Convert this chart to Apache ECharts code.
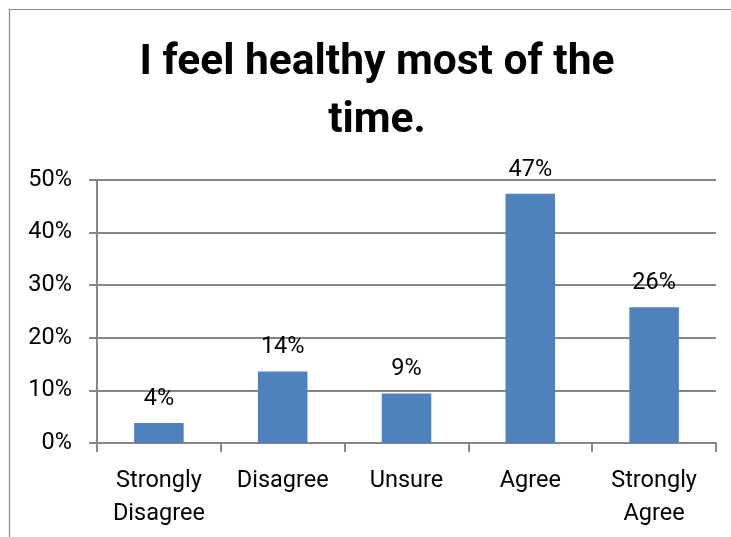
<!DOCTYPE html>
<html>
<head>
<meta charset="utf-8">
<script src="https://cdn.jsdelivr.net/npm/echarts@6/dist/echarts.min.js"></script>
<style>
  html, body { margin: 0; padding: 0; background: #fff; }
  #chart { width: 731px; height: 537px; }
</style>
</head>
<body>
<div id="chart"></div>
<script>
// Survey responses to "I feel healthy most of the time."
const titleText = 'I feel healthy most of the\ntime.';
const categories = ['Strongly\nDisagree', 'Disagree', 'Unsure', 'Agree', 'Strongly\nAgree'];
const percentages = [3.8, 13.6, 9.4, 47.4, 25.8];
const yTicks = { min: 0, max: 50, interval: 10 };

const FONT = 'Roboto, "Liberation Sans", sans-serif';
const AXIS_GRAY = '#868686';

const chart = echarts.init(document.getElementById('chart'), null, { renderer: 'canvas' });

chart.setOption({
  backgroundColor: '#ffffff',
  animation: false,
  title: {
    text: titleText,
    left: 372,
    top: 29,
    textAlign: 'center',
    textStyle: {
      fontFamily: FONT,
      fontWeight: 'bold',
      fontSize: 42.5,
      lineHeight: 58.5,
      color: '#000000'
    }
  },
  graphic: [{
    type: 'rect',
    z: -1,
    shape: { x: 9.5, y: 9.5, width: 760, height: 600 },
    style: { fill: 'none', stroke: '#8a8a8a', lineWidth: 1.2 }
  }],
  grid: { left: 97, right: 15, top: 180, bottom: 94 },
  xAxis: {
    type: 'category',
    data: categories,
    axisLine: { show: true, lineStyle: { color: AXIS_GRAY, width: 2 } },
    axisTick: { show: true, length: 9, lineStyle: { color: AXIS_GRAY, width: 2 } },
    axisLabel: {
      fontFamily: FONT,
      fontSize: 23.5,
      lineHeight: 33,
      color: '#000000',
      margin: 22,
      interval: 0
    }
  },
  yAxis: {
    type: 'value',
    min: yTicks.min,
    max: yTicks.max,
    interval: yTicks.interval,
    axisLine: { show: true, lineStyle: { color: AXIS_GRAY, width: 2 } },
    axisTick: { show: true, length: 8, lineStyle: { color: AXIS_GRAY, width: 2 } },
    splitLine: { show: true, lineStyle: { color: AXIS_GRAY, width: 2 } },
    axisLabel: {
      fontFamily: FONT,
      fontSize: 23.5,
      color: '#000000',
      margin: 25,
      formatter: '{value}%'
    }
  },
  series: [{
    type: 'bar',
    data: percentages,
    barWidth: '40%',
    itemStyle: { color: '#4F81BD' },
    label: {
      show: true,
      position: 'top',
      distance: 12,
      fontFamily: FONT,
      fontSize: 23.5,
      color: '#000000',
      formatter: p => Math.round(p.value) + '%'
    }
  }]
});
</script>
</body>
</html>
